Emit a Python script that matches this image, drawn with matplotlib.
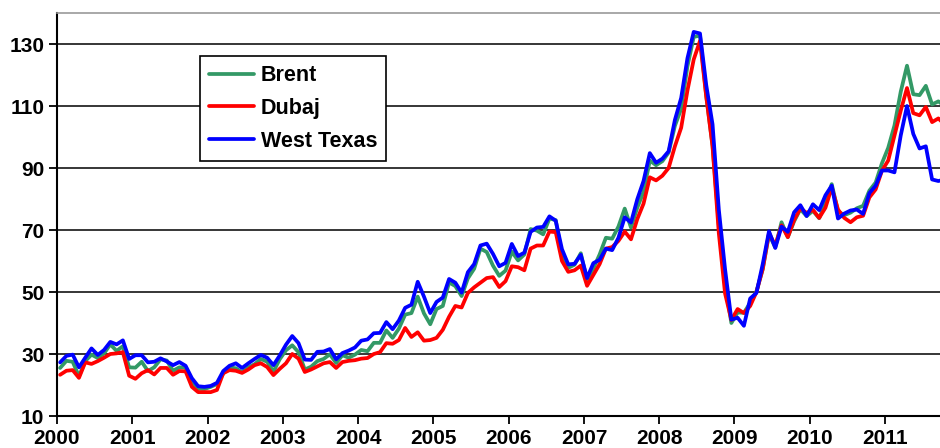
import numpy as np
import matplotlib
matplotlib.use("Agg")
import matplotlib.pyplot as plt

# monthly averages, Jan 2000 .. Oct 2011 (USD/bbl)
brent = [
    25.5, 27.8, 27.5, 22.8, 27.7, 29.8, 28.7, 30.2, 33.1, 31.0, 32.5, 25.7,   # 2000
    25.6, 27.5, 24.5, 25.7, 28.3, 27.9, 24.6, 25.7, 25.6, 20.5, 18.8, 18.7,   # 2001
    19.4, 20.3, 23.7, 25.7, 25.4, 24.1, 25.7, 26.7, 28.4, 27.5, 24.3, 28.3,   # 2002
    31.2, 32.8, 30.6, 25.0, 25.9, 27.7, 28.4, 29.9, 27.1, 29.6, 28.8, 29.8,   # 2003
    31.3, 30.9, 33.6, 33.6, 37.6, 35.2, 38.2, 42.7, 43.2, 48.5, 43.1, 39.6,   # 2004
    44.5, 45.5, 53.1, 51.9, 48.7, 54.4, 57.5, 64.0, 62.9, 58.5, 55.2, 56.9,   # 2005
    63.0, 60.2, 62.1, 70.3, 69.8, 68.6, 73.7, 73.2, 62.0, 57.8, 58.8, 62.5,   # 2006
    53.7, 57.6, 62.1, 67.5, 67.2, 71.1, 76.9, 70.8, 77.2, 82.3, 92.4, 90.9,   # 2007
    92.2, 95.0, 103.6, 109.1, 122.8, 132.3, 132.7, 113.2, 97.2, 71.6, 52.5, 40.0,  # 2008
    43.4, 43.3, 46.5, 50.2, 57.3, 68.6, 64.4, 72.5, 67.7, 72.8, 76.7, 74.5,   # 2009
    76.2, 73.8, 78.8, 84.8, 76.0, 74.8, 75.6, 77.0, 77.8, 82.7, 85.3, 91.5,   # 2010
    96.5, 103.7, 114.6, 123.0, 113.8, 113.5, 116.5, 110.5, 111.5, 110.0,      # 2011
]

dubaj = [
    23.3, 24.6, 24.8, 22.3, 27.3, 26.8, 27.7, 28.8, 30.0, 30.2, 30.6, 23.0,   # 2000
    22.0, 23.8, 24.8, 23.4, 25.5, 25.5, 23.3, 24.5, 24.4, 19.4, 17.7, 17.7,   # 2001
    17.7, 18.4, 23.8, 24.8, 24.6, 23.9, 25.0, 26.4, 27.0, 25.8, 23.2, 25.2,   # 2002
    27.0, 30.0, 28.5, 24.2, 25.0, 26.0, 27.0, 27.4, 25.5, 27.4, 27.8, 28.0,   # 2003
    28.5, 28.7, 30.0, 30.6, 33.5, 33.3, 34.5, 38.4, 35.5, 37.0, 34.3, 34.5,   # 2004
    35.2, 37.8, 42.0, 45.5, 45.0, 49.7, 51.5, 53.0, 54.5, 54.8, 51.6, 53.5,   # 2005
    58.3, 58.0, 57.0, 64.0, 65.0, 65.0, 69.5, 69.3, 60.0, 56.5, 57.0, 58.5,   # 2006
    52.0, 55.5, 59.0, 64.0, 64.5, 66.5, 69.5, 67.0, 73.5, 78.5, 87.0, 86.0,   # 2007
    87.5, 90.0, 97.0, 103.0, 115.0, 125.0, 131.0, 113.0, 97.0, 69.0, 49.5, 41.0,  # 2008
    44.5, 43.2, 45.5, 50.0, 57.5, 69.0, 65.0, 71.5, 67.7, 73.2, 77.0, 75.5,   # 2009
    76.5, 73.9, 77.2, 83.7, 76.6, 73.9, 72.5, 74.1, 74.6, 80.5, 83.1, 89.1,   # 2010
    92.4, 100.5, 108.5, 115.8, 107.7, 107.0, 109.7, 104.8, 106.0, 104.0,      # 2011
]

west_texas = [
    27.3, 29.4, 29.8, 25.7, 28.8, 31.8, 29.7, 31.3, 33.9, 33.1, 34.4, 28.4,   # 2000
    29.6, 29.6, 27.3, 27.5, 28.6, 27.6, 26.4, 27.4, 26.2, 22.2, 19.6, 19.4,   # 2001
    19.7, 20.7, 24.5, 26.2, 27.0, 25.5, 27.0, 28.4, 29.7, 28.8, 26.4, 29.5,   # 2002
    33.0, 35.8, 33.5, 28.2, 28.1, 30.7, 30.8, 31.6, 28.3, 30.3, 31.1, 32.1,   # 2003
    34.3, 34.7, 36.7, 36.8, 40.3, 38.0, 40.8, 44.9, 45.9, 53.3, 48.5, 43.2,   # 2004
    46.8, 48.2, 54.2, 53.0, 49.8, 56.4, 59.0, 65.0, 65.6, 62.3, 58.3, 59.4,   # 2005
    65.5, 61.6, 62.7, 69.4, 70.8, 71.0, 74.4, 73.0, 63.8, 58.9, 59.1, 62.0,   # 2006
    54.5, 59.3, 60.4, 64.0, 63.5, 67.5, 74.1, 72.4, 79.9, 85.8, 94.8, 91.7,   # 2007
    93.0, 95.4, 105.5, 112.6, 125.4, 133.9, 133.4, 116.7, 104.1, 76.6, 57.3, 41.1,  # 2008
    41.7, 39.1, 47.9, 49.7, 59.0, 69.6, 64.2, 71.1, 69.4, 75.7, 78.0, 74.5,   # 2009
    78.3, 76.4, 81.2, 84.3, 73.7, 75.3, 76.3, 76.6, 75.2, 81.9, 84.3, 89.2,   # 2010
    89.2, 88.6, 100.5, 110.0, 101.0, 96.3, 97.0, 86.3, 85.8, 86.3,            # 2011
]

series = [("Brent", brent, "#339966"),
          ("Dubaj", dubaj, "#ff0000"),
          ("West Texas", west_texas, "#0000ff")]

year_ticks = list(range(2000, 2012))
y_ticks = [10, 30, 50, 70, 90, 110, 130]

plt.rcParams['font.family'] = ['Liberation Sans', 'DejaVu Sans']

fig = plt.figure(figsize=(9.4, 4.48), dpi=100)
ax = fig.add_axes([57 / 940, 1 - 416 / 448, 1 - 57 / 940, (416 - 13) / 448])

for name, vals, col in series:
    t = 2000 + (np.arange(len(vals)) + 0.5) / 12.0
    ax.plot(t, vals, color=col, lw=2.7, label=name,
            solid_joinstyle='round', solid_capstyle='round')

ax.set_xlim(2000, 2011.73)
ax.set_ylim(10, 140)
ax.set_yticks(y_ticks)
ax.set_xticks(year_ticks)
ax.set_xticklabels([str(y) for y in year_ticks], fontsize=15, fontweight='bold')
ax.set_yticklabels([str(v) for v in y_ticks], fontsize=15, fontweight='bold')
ax.yaxis.grid(True, color='black', lw=1.1)
ax.set_axisbelow(True)
ax.tick_params(axis='both', direction='out', length=6, width=1.3, color='black', pad=3)

ax.spines['right'].set_visible(False)
ax.spines['top'].set_color('#999999')
ax.spines['top'].set_linewidth(1.2)
ax.spines['left'].set_linewidth(1.5)
ax.spines['bottom'].set_linewidth(1.5)

leg = ax.legend(loc='upper left', bbox_to_anchor=(0.162, 0.893), borderaxespad=0,
                frameon=True, fancybox=False, edgecolor='black', framealpha=1,
                prop={'size': 15.5, 'weight': 'bold'}, handlelength=2.1,
                handletextpad=0.3, labelspacing=0.55, borderpad=0.42)
leg.get_frame().set_linewidth(1.2)

fig.savefig("out.png", dpi=100)
